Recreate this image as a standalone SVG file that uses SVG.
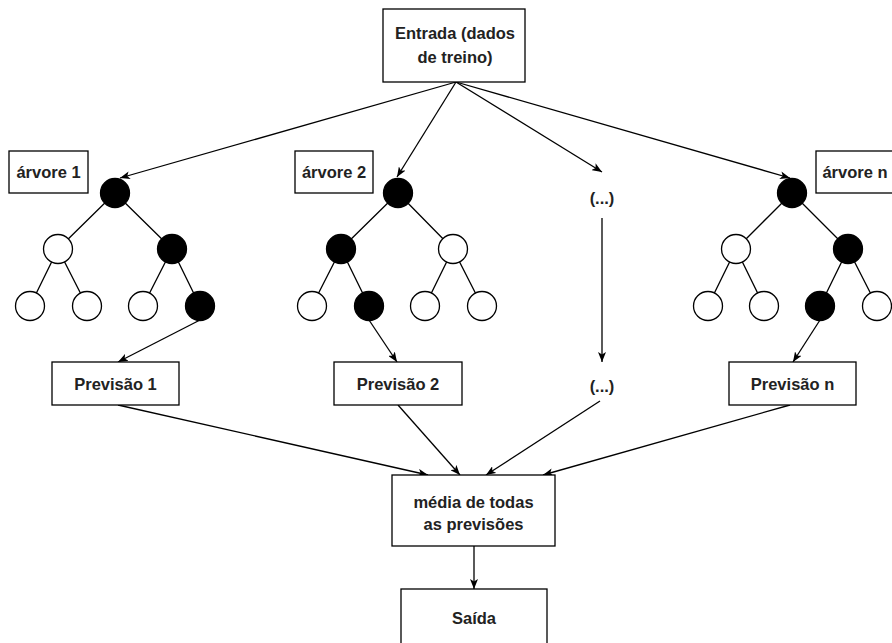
<svg xmlns="http://www.w3.org/2000/svg" width="892" height="643" viewBox="0 0 892 643">
  <defs>
    <marker id="arrow" viewBox="0 0 10 8" refX="10" refY="4" markerWidth="10" markerHeight="8" markerUnits="userSpaceOnUse" orient="auto">
      <path d="M0,0 L10,4 L0,8 L2.5,4 Z" fill="#000"/>
    </marker>
  </defs>
  <style>
    .box { fill: #fff; stroke: #000; stroke-width: 1.3; }
    .lbl { font-family: "Liberation Sans", Arial, sans-serif; font-weight: bold; font-size: 16.5px; fill: #222; text-anchor: middle; dominant-baseline: central; }
    .edge { stroke: #000; stroke-width: 1.3; fill: none; }
    .arrow { stroke: #000; stroke-width: 1.3; fill: none; marker-end: url(#arrow); }
    .wn { fill: #fff; stroke: #000; stroke-width: 1.3; }
    .bn { fill: #000; stroke: #000; stroke-width: 1.3; }
  </style>
  <rect width="892" height="643" fill="#fff"/>

  <!-- connectors -->
  <g id="connectors">
    <!-- input to the trees -->
    <line class="arrow" x1="456" y1="82" x2="120" y2="178"/>
    <line class="arrow" x1="456" y1="82" x2="397" y2="177"/>
    <line class="arrow" x1="456" y1="82" x2="602" y2="172"/>
    <line class="arrow" x1="456" y1="82" x2="790" y2="178"/>
    <!-- ellipsis branch -->
    <line class="arrow" x1="602" y1="218" x2="602" y2="362"/>
    <!-- leaves to predictions -->
    <line class="arrow" x1="200" y1="320" x2="118" y2="362"/>
    <line class="arrow" x1="369" y1="320" x2="397" y2="362"/>
    <line class="arrow" x1="820" y1="320" x2="793" y2="362"/>
    <!-- predictions to average -->
    <line class="arrow" x1="118" y1="405" x2="428" y2="475"/>
    <line class="arrow" x1="398" y1="405" x2="460" y2="475"/>
    <line class="arrow" x1="600" y1="401" x2="486" y2="475"/>
    <line class="arrow" x1="790" y1="405" x2="543" y2="475"/>
    <!-- average to output -->
    <line class="arrow" x1="474" y1="546" x2="474" y2="589"/>
  </g>

  <g id="entrada">
    <rect class="box" x="383" y="9" width="142" height="73"/>
    <text class="lbl" x="455" y="33">Entrada (dados</text>
    <text class="lbl" x="455" y="57">de treino)</text>
  </g>

  <!-- tree 1 -->
  <g id="arvore1-label">
    <rect class="box" x="9" y="151" width="79" height="42"/>
    <text class="lbl" x="48.5" y="172">árvore 1</text>
  </g>
  <g id="arvore1">
    <path class="edge" d="M115,193 L58,249 M115,193 L172,249 M58,249 L30,306 M58,249 L87,306 M172,249 L143,306 M172,249 L200,306"/>
    <circle class="bn" cx="115" cy="193" r="14.5"/>
    <circle class="wn" cx="58" cy="249" r="14.5"/>
    <circle class="bn" cx="172" cy="249" r="14.5"/>
    <circle class="wn" cx="30" cy="306" r="14.5"/>
    <circle class="wn" cx="87" cy="306" r="14.5"/>
    <circle class="wn" cx="143" cy="306" r="14.5"/>
    <circle class="bn" cx="200" cy="306" r="14.5"/>
  </g>

  <!-- tree 2 -->
  <g id="arvore2-label">
    <rect class="box" x="295" y="151" width="78" height="42"/>
    <text class="lbl" x="334" y="172">árvore 2</text>
  </g>
  <g id="arvore2">
    <path class="edge" d="M398,193 L341,249 M398,193 L453,249 M341,249 L312,306 M341,249 L369,306 M453,249 L425,306 M453,249 L482,306"/>
    <circle class="bn" cx="398" cy="193" r="14.5"/>
    <circle class="bn" cx="341" cy="249" r="14.5"/>
    <circle class="wn" cx="453" cy="249" r="14.5"/>
    <circle class="wn" cx="312" cy="306" r="14.5"/>
    <circle class="bn" cx="369" cy="306" r="14.5"/>
    <circle class="wn" cx="425" cy="306" r="14.5"/>
    <circle class="wn" cx="482" cy="306" r="14.5"/>
  </g>

  <!-- tree n -->
  <g id="arvoren-label">
    <rect class="box" x="816" y="151" width="78" height="42"/>
    <text class="lbl" x="855" y="172">árvore n</text>
  </g>
  <g id="arvoren">
    <path class="edge" d="M792,193 L736,249 M792,193 L848,249 M736,249 L708,306 M736,249 L764,306 M848,249 L820,306 M848,249 L877,306"/>
    <circle class="bn" cx="792" cy="193" r="14.5"/>
    <circle class="wn" cx="736" cy="249" r="14.5"/>
    <circle class="bn" cx="848" cy="249" r="14.5"/>
    <circle class="wn" cx="708" cy="306" r="14.5"/>
    <circle class="wn" cx="764" cy="306" r="14.5"/>
    <circle class="bn" cx="820" cy="306" r="14.5"/>
    <circle class="wn" cx="877" cy="306" r="14.5"/>
  </g>

  <g id="reticencias-1">
    <text class="lbl" x="602" y="198">(...)</text>
  </g>
  <g id="reticencias-2">
    <text class="lbl" x="602" y="386">(...)</text>
  </g>

  <g id="previsao1">
    <rect class="box" x="52" y="362" width="127" height="43"/>
    <text class="lbl" x="115.5" y="384">Previsão 1</text>
  </g>
  <g id="previsao2">
    <rect class="box" x="334" y="362" width="128" height="43"/>
    <text class="lbl" x="398" y="384">Previsão 2</text>
  </g>
  <g id="previsaon">
    <rect class="box" x="729" y="362" width="127" height="43"/>
    <text class="lbl" x="792.5" y="384">Previsão n</text>
  </g>

  <g id="media">
    <rect class="box" x="392" y="475" width="163" height="71"/>
    <text class="lbl" x="473.5" y="502">média de todas</text>
    <text class="lbl" x="473.5" y="524">as previsões</text>
  </g>

  <g id="saida">
    <rect class="box" x="401" y="589" width="146" height="60"/>
    <text class="lbl" x="474" y="618">Saída</text>
  </g>
</svg>
